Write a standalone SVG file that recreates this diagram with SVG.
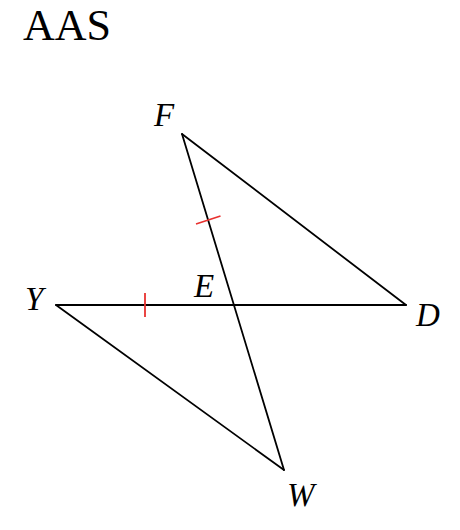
<svg xmlns="http://www.w3.org/2000/svg" width="460" height="530" viewBox="0 0 460 530">
<style>
.t{font-family:"Liberation Serif","Times New Roman",serif;fill:#000}
.lbl{font-style:italic;font-size:33px}
.edge{stroke:#000;stroke-width:1.8;fill:none;stroke-linecap:round;stroke-linejoin:round}
.tick{stroke:#e8312f;stroke-width:1.8;fill:none}
</style>
<rect width="460" height="530" fill="#fff"/>
<text class="t" x="23" y="40" font-size="44">AAS</text>
<g id="connectors">
<line class="edge" x1="182" y1="134" x2="406" y2="305"/>
<line class="edge" x1="182" y1="134" x2="284" y2="470"/>
<line class="edge" x1="56" y1="305" x2="406" y2="305"/>
<line class="edge" x1="56" y1="305" x2="284" y2="470"/>
</g>
<g id="ticks">
<line class="tick" x1="145" y1="293" x2="145" y2="317"/>
<line class="tick" x1="196" y1="224" x2="220.5" y2="216"/>
</g>
<g id="F"><text class="t lbl" x="154" y="126">F</text></g>
<g id="Y"><text class="t lbl" x="25" y="310">Y</text></g>
<g id="E"><text class="t lbl" x="194" y="297">E</text></g>
<g id="D"><text class="t lbl" x="416" y="326">D</text></g>
<g id="W"><text class="t lbl" x="287" y="506">W</text></g>
</svg>
